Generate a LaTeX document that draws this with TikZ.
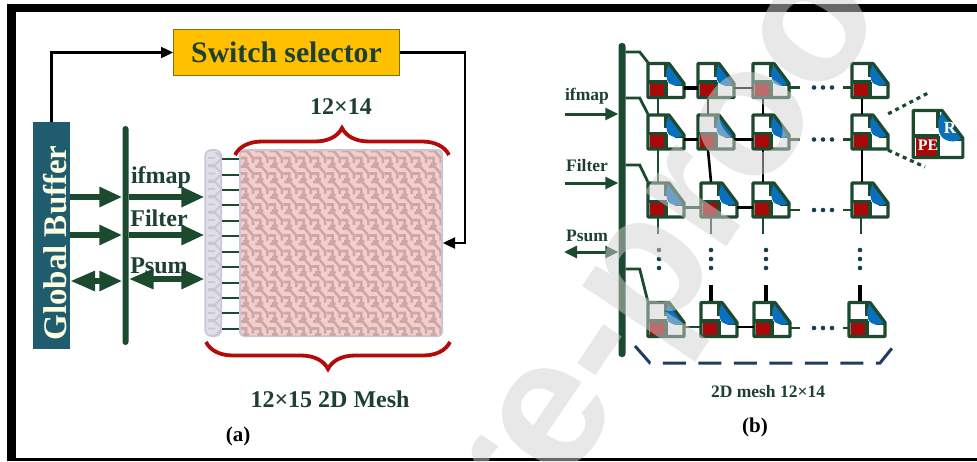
\documentclass[tikz,border=0pt]{standalone}
\usepackage{fontspec}
\setmainfont{Liberation Serif}
\newfontfamily\wmfont{Liberation Sans}
\usepackage{xcolor}
\usetikzlibrary{arrows.meta,positioning,calc,decorations.pathreplacing}
\definecolor{busgreen}{HTML}{1C4A2E}
\definecolor{bufteal}{HTML}{1F5C6E}
\definecolor{selgold}{HTML}{FFC000}
\definecolor{bracered}{HTML}{B30A0A}
\definecolor{pered}{HTML}{A80808}
\definecolor{routerblue}{HTML}{0A70BE}
\definecolor{meshpink}{HTML}{F8CCCB}
\definecolor{meshgrey}{HTML}{C9A9A6}
\definecolor{stripgrey}{HTML}{E0DFE6}
\definecolor{edgelav}{HTML}{C9C6DA}
\definecolor{basketblue}{HTML}{1F3B63}
\definecolor{inktext}{HTML}{1E4034}
\newcommand{\petile}[4][1]{
\node[tilebox,minimum size=36pt*#1] (#2) at (#3,#4) {};
\begin{scope}[shift={(#3,#4)},scale=#1]
\fill[white] (-18,-17) -- (3,-17) -- (18,3) -- (18,17) -- (-18,17) -- cycle;
\fill[pered] (-16,2) rectangle (0,16);
\draw[tileline] (-18,1.5) -- (1,1.5) (0,-17) -- (0,-4) (0,1.5) -- (0,17) (9,4) -- (18,4);
\fill[routerblue] (3,-16) -- (17,3) .. controls (13,7) and (3,6) .. (1,-1) .. controls (-1,-7) and (1,-13) .. (3,-16) -- cycle;
\draw[tileline] (-18,-17) -- (3,-17) -- (18,3) -- (18,17) -- (-18,17) -- cycle;
\end{scope}
}
\tikzset{
    tilebox/.style={
		rectangle,
		inner sep=0pt
		},
    tileline/.style={
		draw=busgreen,
		line width=3.2pt,
		line join=round
		},
    busbar/.style={ % vertical data bus
		rectangle,
		rounded corners=3pt,
		fill=busgreen,
		inner sep=0pt
		},
    lbl/.style={
		text=inktext,
		font=\bfseries\fontsize{24}{26}\selectfont,
		inner sep=0pt
		},
    lblb/.style={ %smaller labels of (b)
		lbl,
		font=\bfseries\fontsize{17.5}{19}\selectfont
		},
    arrwide/.style={
		draw=busgreen,
		line width=6pt,
		-{Triangle[length=23pt,width=19pt]}
		},
    arrwideb/.style={
		arrwide,
		{Triangle[length=25pt,width=19pt]}-{Triangle[length=23pt,width=19pt]}
		},
    arrmid/.style={
		draw=busgreen,
		line width=3pt,
		-{Triangle[length=13pt,width=12pt]}
		},
    arrmidb/.style={
		arrmid,
		{Triangle[length=13pt,width=12pt]}-{Triangle[length=13pt,width=12pt]}
		},
    arrctl/.style={
		draw=black,
		line width=2.4pt,
		-{Triangle[length=12pt,width=11pt]}
		},
    redbrace/.style={
		draw=bracered,
		line width=3.8pt,
		decorate,
		decoration={brace,amplitude=27pt,aspect=0.5}
		},
    rung/.style={
		draw=busgreen,
		line width=2pt
		},
    linkblack/.style={
		draw=black,
		line width=3.6pt
		},
    linkthin/.style={
		draw=black,
		line width=2.6pt
		},
    linkgreen/.style={
		draw=busgreen,
		line width=2.8pt
		},
    meshdots/.style={ %ellipsis dots
		draw=bufteal!70!black,
		line width=4.6pt,
		line cap=round,
		dash pattern=on 0pt off 9pt
		},
    zoomline/.style={
		draw=busgreen,
		line width=3.2pt,
		dash pattern=on 4pt off 4pt
		}
}
\begin{document}
\begin{tikzpicture}[x=1pt,y=-1pt]
		\useasboundingbox (0,0) rectangle (977,461);
		
		%%%%% frame
		\fill[black] (7,4) rectangle (977,12);
		\fill[black] (7,4) rectangle (16,461);
		\fill[black] (7,458) rectangle (977,461);
		
		%%%%% node gbuf
		\node[rectangle,fill=bufteal,minimum width=37pt,minimum height=227pt,inner sep=0pt] (gbuf) at (51.5,235.5) {};
		\node[rotate=90,text=yellow!12,font=\bfseries\fontsize{33}{35}\selectfont,inner sep=0pt] (gbuftxt) at (55,243) {Global Buffer};
		
		%%%%% node sel
		\node[rectangle,fill=selgold,draw=olive!80!black,line width=1pt,minimum width=226pt,minimum height=46pt,inner sep=0pt] (sel) at (286.5,52.5) {};
		\node[lbl,font=\bfseries\fontsize{29.7}{32}\selectfont] (seltxt) at (286.5,52) {Switch selector};
		
		%%%%% node busa
		\node[busbar,minimum width=6pt,minimum height=219pt] (busa) at (125.5,235.5) {};
		
		%%%%% node mesh
		\node[rectangle,rounded corners=4pt,fill=meshpink,draw=edgelav,line width=2pt,minimum width=202pt,minimum height=186pt,inner sep=0pt] (mesh) at (341,243) {};
		\begin{scope}
			\clip (241,151) rectangle (441,335);
			\foreach \i in {0,...,13}
				\foreach \j in {0,...,11}
					\draw[meshgrey,line width=2.6pt,shift={(240+14.43*\i,150+15.5*\j)}]
						(1,1) -- (7,1) -- (13,8) -- (13,13)
						(0,8) -- (6,8) -- (6,14) (3,14) -- (9,14);
		\end{scope}
		
		%%%%% node strip
		\node[rectangle,rounded corners=6pt,fill=stripgrey,draw=edgelav,line width=1.6pt,minimum width=16pt,minimum height=186pt,inner sep=0pt,left=17pt of mesh] (strip) {};
		\begin{scope}
			\clip (208,152) rectangle (222,334);
			\foreach \j in {0,...,11}
				\draw[edgelav,line width=1.8pt,shift={(207,150+15.5*\j)}]
					(0,1) -- (8,1) -- (15,8) -- (8,15) -- (0,15) (0,8) -- (8,8);
		\end{scope}
		\foreach \y in {159,174.5,190,205,221,236,252,267,283,298,313,329}
			\draw[rung] (strip.east |- 0,\y) -- (mesh.west |- 0,\y);
		
		%%%%% edges of (a)
		\draw[arrwide] (gbuf.east |- 0,197) -- (busa.west |- 0,197);
		\draw[arrwide] (busa.east |- 0,197) -- (strip.west |- 0,197);
		\draw[arrwide] (gbuf.east |- 0,235) -- (busa.west |- 0,235);
		\draw[arrwide] (busa.east |- 0,235) -- (strip.west |- 0,235);
		\draw[arrwideb] (gbuf.east |- 0,281) -- (busa.west |- 0,281);
		\draw[arrwideb] (busa.east |- 0,279) -- (strip.west |- 0,279);
		
		%%%%% labels of (a)
		\node[lbl] (ifa) at (161,178) {ifmap};
		\node[lbl] (fia) at (159,218) {Filter};
		\node[lbl] (psa) at (159,266) {Psum};
		\node[lbl,above=34pt of mesh.north] (dimtop) {12×14};
		\node[lbl,below=54pt of mesh.south,xshift=-11pt] (dimbot) {12×15 2D Mesh};
		\node[lbl,font=\bfseries\fontsize{21}{23}\selectfont,text=black] (capa) at (238,436) {(a)};
		
		%%%%% braces
		\draw[redbrace] (235,155) -- (449,155);
		\draw[redbrace] (450,342) -- (206,342);
		
		%%%%% control edges
		\coordinate (turnr) at (465,243);
		\draw[arrctl] (gbuf.north) |- (sel.west);
		\draw[arrctl] (sel.east) -| (turnr) -- (mesh.east |- turnr);
		
		%%%%% node busb
		\node[busbar,minimum width=7pt,minimum height=314pt] (busb) at (622,200) {};
		
		%%%%% PE tiles, rows r, columns c
		\foreach \r/\y/\xb/\xc/\xd in {1/80.5/716/771/870,2/132/716/771/870,3/200/719/771/870,4/319.5/719/772/867}{
			\petile{t\r1}{666}{\y}
			\petile{t\r2}{\xb}{\y}
			\petile{t\r3}{\xc}{\y}
			\petile{t\r4}{\xd}{\y}
		}
		\petile[1.38]{tzoom}{938}{134}
		\node[font=\bfseries\fontsize{17}{18}\selectfont,text=white,inner sep=0pt] (rtxt) at (950,128) {R};
		\node[font=\bfseries\fontsize{16}{17}\selectfont,text=white,inner sep=0pt] (petxt) at (928,145) {PE};
		
		%%%%% branches off busb
		\foreach \r/\y in {1/52,2/98,3/165,4/269}
			\draw[linkgreen] (busb.east |- 0,\y) -- ++(14,0) -- (t\r1.north west);
		
		%%%%% horizontal links
		\foreach \a/\b in {t11/t12,t21/t22,t22/t23,t32/t33}
			\draw[linkblack] ([yshift=-7.5pt]\a.east) -- ([yshift=-7.5pt]\b.west);
		\foreach \a/\b in {t12/t13,t42/t43}
			\draw[linkthin] ([yshift=-7.5pt]\a.east) -- ([yshift=-7.5pt]\b.west);
		\foreach \a/\b in {t31/t32,t41/t42}
			\draw[linkgreen] ([yshift=-7.5pt]\a.east) -- ([yshift=-7.5pt]\b.west);
		
		%%%%% vertical links
		\foreach \a/\b in {t12/t22,t13/t23,t14/t24,t22/t32,t23/t33,t24/t34}
			\draw[linkthin] ([xshift=-8pt]\a.south) -- ([xshift=-8pt]\b.north);
		\foreach \a/\b in {t11/t21,t21/t31}
			\draw[linkgreen] ([xshift=-8pt]\a.south) -- ([xshift=-8pt]\b.north);
		
		%%%%% row ends and dots
		\foreach \r/\y in {1/87.5,2/139.5,3/210,4/328}{
			\coordinate (sa\r) at (800,\y);
			\coordinate (sb\r) at (843,\y);
			\coordinate (da\r) at (814,\y);
			\coordinate (db\r) at (833,\y);
			\draw[linkgreen] (t\r3.east |- sa\r) -- (sa\r);
			\draw[linkgreen] (sb\r) -- (t\r4.west |- sb\r);
			\draw[meshdots] (da\r) -- (db\r);
		}
		
		%%%%% column ends and dots
		\foreach \c/\xa/\xb in {1/658/659,2/711/711,3/763/766,4/861/860}{
			\coordinate (va\c) at (\xa,234);
			\coordinate (ua\c) at (\xb,250);
			\coordinate (ub\c) at (\xb,270);
			\coordinate (vb\c) at (\xb,285);
			\draw[linkgreen] (va\c |- t3\c.south) -- (va\c);
			\draw[meshdots] (ua\c) -- (ub\c);
		}
		\foreach \c in {2,3,4}
			\draw[linkblack] (vb\c) -- (vb\c |- t4\c.north);
		
		%%%%% arrows of (b)
		\draw[arrmid] (565,114) -- (busb.west |- 0,114);
		\draw[arrmid] (565,183) -- (busb.west |- 0,183);
		\draw[arrmidb] (564,252) -- (busb.west |- 0,252);
		
		%%%%% labels of (b)
		\node[lblb] (ifb) at (587,96) {ifmap};
		\node[lblb] (fib) at (587,166) {Filter};
		\node[lblb] (psb) at (587,236) {Psum};
		\node[lblb] (dimb) at (768,392) {2D mesh 12×14};
		\node[lbl,font=\bfseries\fontsize{21}{23}\selectfont,text=black] (capb) at (755,427) {(b)};
		
		%%%%% dashed basket under the mesh
		\coordinate (ba) at (635,346);
		\coordinate (bb) at (650,363);
		\coordinate (bc) at (880,363);
		\coordinate (bd) at (893,347);
		\draw[basketblue,line width=3pt,dash pattern=on 23pt off 12.5pt] (ba) -- (bb) -- (bc) -- (bd);
		
		%%%%% zoomed tile lines
		\coordinate (zt) at (930,92);
		\coordinate (zb) at (925,167);
		\draw[zoomline] (t24.north east) -- (zt);
		\draw[zoomline] (t24.south east) -- (zb);
		
		%%%%% watermark
		\node[rotate=56,text=gray!36,text opacity=0.5,font=\wmfont\bfseries\fontsize{185}{185}\selectfont,inner sep=0pt] (wmark) at (680,262) {re-proo};
		\end{tikzpicture}
\end{document}
